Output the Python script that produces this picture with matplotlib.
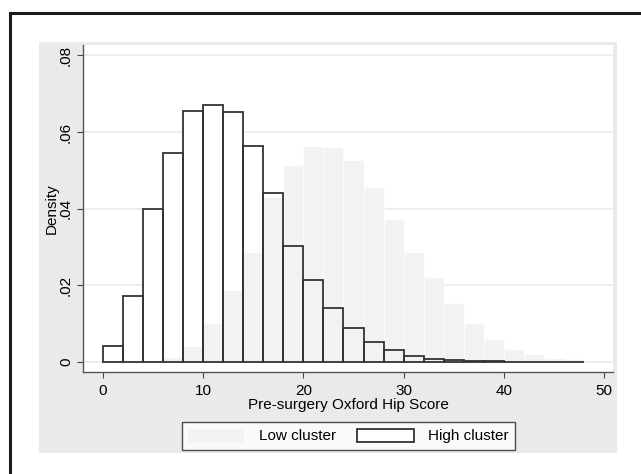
import numpy as np
import matplotlib
matplotlib.use("Agg")
import matplotlib.pyplot as plt
from matplotlib.patches import Patch, Rectangle
from matplotlib.lines import Line2D

plt.rcParams['font.family'] = ['Liberation Sans', 'DejaVu Sans']

# histogram bins (width 2) and densities
bin_edges = list(range(0, 50, 2))  # left edges 0..48
low_cluster = [0.0, 0.0, 0.0002, 0.0012, 0.0041, 0.0103, 0.0187, 0.0288, 0.0430,
               0.0513, 0.0563, 0.0562, 0.0528, 0.0456, 0.0373, 0.0286, 0.0221,
               0.0154, 0.0101, 0.0060, 0.0034, 0.0020, 0.0010, 0.0007, 0.0]
high_cluster = [0.0043, 0.0173, 0.0400, 0.0544, 0.0655, 0.0670, 0.0653, 0.0563,
                0.0440, 0.0302, 0.0214, 0.0140, 0.0089, 0.0052, 0.0031, 0.0015,
                0.0009, 0.0004, 0.0003, 0.0002, 0.0001, 0.0001, 0.0001, 0.0001, 0.0]
x_ticks = [0, 10, 20, 30, 40, 50]
y_ticks = [0, 0.02, 0.04, 0.06, 0.08]
y_labels = ["0", ".02", ".04", ".06", ".08"]

W, H = 641, 474
FS = 11
fig = plt.figure(figsize=(W / 100, H / 100), dpi=100)
fig.patch.set_facecolor("white")

# outer frame (left/top visible) and gray graph region
fig.add_artist(Line2D([10 / W, 10 / W], [0, 1 - 13 / H], color="#1a1a1a", lw=2.2))
fig.add_artist(Line2D([10 / W, 1], [1 - 13 / H, 1 - 13 / H], color="#1a1a1a", lw=2.2))
fig.add_artist(Rectangle((39 / W, 1 - 453 / H), 578 / W, 411 / H,
                         facecolor="#eaeaea", edgecolor="none", zorder=0))

ax = fig.add_axes([83 / W, 1 - 372 / H, 530 / W, 327 / H])
ax.set_facecolor("white")

lefts = np.array(bin_edges[:len(high_cluster)])
low = np.array(low_cluster)
high = np.array(high_cluster)
keep = lefts < 48

ax.bar(lefts[keep], high[keep], width=2, align="edge", color="white",
       edgecolor="none", zorder=2)
ax.bar(lefts[keep], low[keep], width=2, align="edge", color="#f2f2f2",
       edgecolor="white", linewidth=0.6, zorder=3)
ax.bar(lefts[keep], high[keep], width=2, align="edge", fill=False,
       edgecolor="#333333", linewidth=1.3, zorder=4)

ax.set_xlim(-2.0, 50.9)
ax.set_ylim(-0.0026, 0.0827)
ax.set_xticks(x_ticks)
ax.set_yticks(y_ticks)
ax.set_yticklabels(y_labels, rotation=90, va="center")
ax.tick_params(labelsize=FS, length=4.2, color="#444444", width=0.8)
ax.tick_params(axis="x", pad=4.5)
ax.tick_params(axis="y", pad=3)
ax.yaxis.grid(True, color="#eaeaea", lw=1.2, zorder=0)
ax.set_axisbelow(True)

for s in ["top", "right"]:
    ax.spines[s].set_visible(False)
for s in ["left", "bottom"]:
    ax.spines[s].set_color("#555555")
    ax.spines[s].set_linewidth(1.0)

ax.set_xlabel("Pre-surgery Oxford Hip Score", fontsize=FS, labelpad=0)
ax.set_ylabel("Density", fontsize=FS, labelpad=0)

handles = [Patch(facecolor="#f2f2f2", edgecolor="none"),
           Patch(facecolor="white", edgecolor="#222222", linewidth=1.2)]
leg = fig.legend(handles, ["Low cluster", "High cluster"], loc="center",
                 bbox_to_anchor=(348.5 / W, 1 - 436 / H), ncol=2, fontsize=FS,
                 frameon=True, fancybox=False, edgecolor="#222222",
                 handlelength=3.7, handleheight=0.95, handletextpad=0.95,
                 columnspacing=1.4, borderpad=0.4, borderaxespad=0)
leg.get_frame().set_linewidth(1.0)
leg.get_frame().set_facecolor("white")

fig.savefig("out.png", dpi=100)
